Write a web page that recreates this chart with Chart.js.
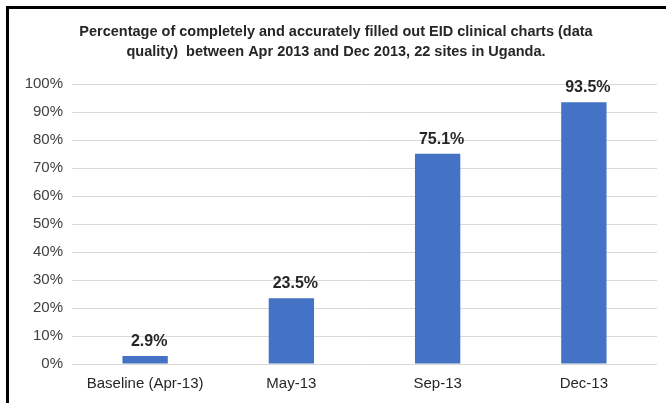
<!DOCTYPE html>
<html>
<head>
<meta charset="utf-8">
<script src="https://cdn.jsdelivr.net/npm/chart.js@4"></script>
<style>
  body { margin: 0; background: #fff; }
  #frame { position: absolute; left: 6px; top: 6px; width: 660px; height: 397px;
           border-top: 3px solid #000; border-left: 3px solid #000; box-sizing: border-box; }
  #wrap { position: absolute; left: 0; top: 0; width: 666px; height: 403px; }
</style>
</head>
<body>
<div id="frame"></div>
<div id="wrap"><canvas id="myBar" width="666" height="403"></canvas></div>
<script>
// chart data
var xValues = ["Baseline (Apr-13)", "May-13", "Sep-13", "Dec-13"];
var yValues = [2.9, 23.5, 75.1, 93.5];
var titleLines = [
    "Percentage of completely and accurately filled out EID clinical charts (data",
    "quality)  between Apr 2013 and Dec 2013, 22 sites in Uganda."
];

// draw value labels above bars
var valueLabels = {
    id: 'valueLabels',
    afterDatasetsDraw: function(chart) {
        var ctx = chart.ctx;
        var meta = chart.getDatasetMeta(0);
        ctx.save();
        ctx.font = 'bold 16px "Liberation Sans", Arial, sans-serif';
        ctx.fillStyle = '#262626';
        ctx.textAlign = 'center';
        ctx.textBaseline = 'alphabetic';
        meta.data.forEach(function(bar, i) {
            ctx.fillText(yValues[i].toFixed(1) + '%', bar.x + 4, bar.y - 10);
        });
        ctx.restore();
    }
};

var barChart = new Chart('myBar', {
    type: 'bar',
    data: {
        labels: xValues,
        datasets: [{
            backgroundColor: '#4472C4',
            data: yValues,
            barPercentage: 0.31,
            categoryPercentage: 1
        }]
    },
    options: {
        responsive: false,
        animation: false,
        layout: { padding: { left: 15, right: 9, top: 0, bottom: 7 } },
        plugins: {
            legend: { display: false },
            tooltip: { enabled: false },
            title: {
                display: true,
                text: titleLines,
                color: '#262626',
                font: { family: '"Liberation Sans", Arial, sans-serif', size: 14.5, weight: 'bold', lineHeight: 1.38 },
                padding: { top: 22, bottom: 22 }
            }
        },
        scales: {
            x: {
                grid: { display: false },
                border: { display: false },
                ticks: {
                    color: '#262626',
                    padding: 3,
                    font: { family: '"Liberation Sans", Arial, sans-serif', size: 15 }
                }
            },
            y: {
                min: 0,
                max: 100,
                afterFit: function(scale) { scale.width = 57; },
                grid: { color: '#d9d9d9', drawTicks: false },
                border: { display: false },
                ticks: {
                    stepSize: 10,
                    padding: 9,
                    color: '#404040',
                    font: { family: '"Liberation Sans", Arial, sans-serif', size: 15 },
                    callback: function(v) { return v + '%'; }
                }
            }
        }
    },
    plugins: [valueLabels]
});
</script>
</body>
</html>
